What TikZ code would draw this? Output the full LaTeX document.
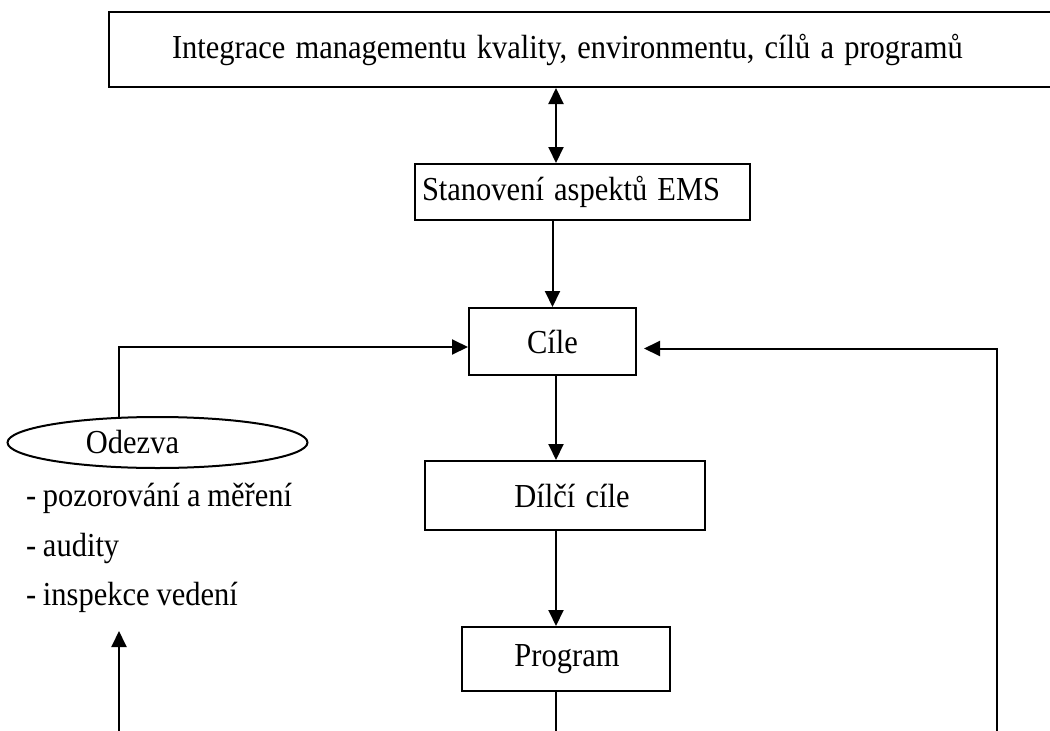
\documentclass[tikz,border=0pt]{standalone}
\usepackage{fontspec}
\setmainfont[WordSpace=0.9]{Liberation Serif}
\usetikzlibrary{arrows.meta,shapes.geometric,calc}
% slightly tall lettering
\newcommand{\tl}[1]{\scalebox{1}[1.1]{#1}}
\begin{document}
\begin{tikzpicture}[x=1pt,y=-1pt,line width=2pt,
  every node/.style={font=\fontsize{30.5}{36}\selectfont, inner sep=0pt},
  box/.style={draw, rectangle, line width=2pt},
  tip/.tip={Triangle[length=16pt,width=15pt]},
  link/.style={-tip},
  dlink/.style={tip-tip},
  item/.style={anchor=base west}]
\useasboundingbox (0,0) rectangle (1050,731);
\clip (0,0) rectangle (1050,731);

% boxes of the main column
\node[box, minimum height=75pt, text width=825pt, inner xsep=63pt, align=left] (top) at (584.5,49.5)
  {\tl{Integrace managementu kvality, environmentu, cílů a programů}};
\node[box, minimum height=56pt, text width=321pt, inner xsep=7pt, align=left] (stan) at (582.5,192)
  {\tl{Stanovení aspektů EMS}};
\node[box, minimum width=167pt, minimum height=67pt] (cile) at (552.5,341.5) {\tl{Cíle}};
\node[box, minimum height=69pt, text width=250pt, inner xsep=15pt, align=center] (dilci) at (565,495.5)
  {\hspace*{14pt}\tl{Dílčí cíle}};
\node[box, minimum height=64pt, text width=188pt, inner xsep=10pt, align=center] (prog) at (566,659)
  {\hspace*{2pt}\tl{Program}};

% feedback ellipse and its list
\node[draw, ellipse, minimum width=300pt, minimum height=51pt,
      label={[xshift=-25pt]center:\tl{Odezva}}] (odezva) at (157.5,442.5) {};
\node[item] (l1) at (25,506) {\tl{- pozorování a měření}};
\node[item] (l2) at (25,556) {\tl{- audity}};
\node[item] (l3) at (25,605) {\tl{- inspekce vedení}};

% loose ends of the loop lines
\coordinate (odtop) at (119,418);
\coordinate (lbot) at (119,731);
\coordinate (ltip) at (119,631);
\coordinate (rbot) at (997,731);
\coordinate (pbot) at (556,731);
\coordinate (mid) at (556,0);

% connectors
\draw[dlink] (top.south -| mid) -- (stan.north -| mid);
\draw[link] (cile.north |- stan.south) -- (cile.north);
\draw[link] (cile.south -| mid) -- (dilci.north -| mid);
\draw[link] (dilci.south -| mid) -- (prog.north -| mid);
\draw (prog.south -| mid) -- (pbot);
\draw[link] (odtop) |- ([yshift=-5.5pt]cile.west);
\draw[link] (rbot) |- ([xshift=7pt,yshift=-7pt]cile.east);
\draw[link] (lbot) -- (ltip);
\end{tikzpicture}
\end{document}
